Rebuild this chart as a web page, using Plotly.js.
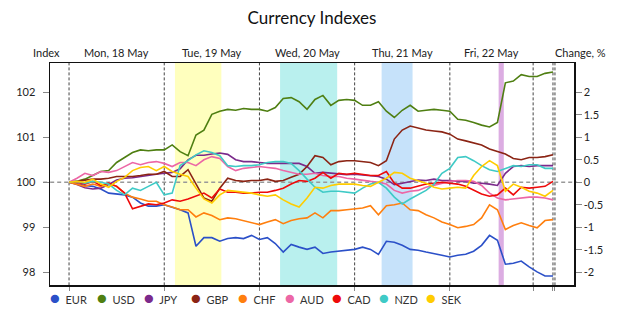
<!DOCTYPE html>
<html>
<head>
<meta charset="utf-8">
<script src="https://cdn.plot.ly/plotly-3.0.1.min.js"></script>
<style>
  html, body { margin: 0; padding: 0; background: #fff; }
  #chart { width: 625px; height: 315px; }
</style>
</head>
<body>
<div id="chart"></div>
<script>
// Time axis: hours since Monday 18 May 00:00, sampled every two hours
const hours = [0, 2, 4, 6, 8, 10, 12, 14, 16, 18, 20, 22, 24, 26, 28, 30, 32, 34, 36, 38,
  40, 42, 44, 46, 48, 50, 52, 54, 56, 58, 60, 62, 64, 66, 68, 70, 72, 74, 76, 78,
  80, 82, 84, 86, 88, 90, 92, 94, 96, 98, 100, 102, 104, 106, 108, 110, 112, 114, 116, 118,
  120, 122];

// Currency index values (start = 100)
const eur = [100.00, 99.96, 99.93, 99.91, 99.85, 99.76, 99.74, 99.72, 99.67, 99.54,
  99.47, 99.47, 99.50, 99.45, 99.39, 99.32, 98.58, 98.77, 98.77, 98.69,
  98.75, 98.77, 98.75, 98.82, 98.73, 98.77, 98.64, 98.45, 98.62, 98.56,
  98.51, 98.56, 98.42, 98.45, 98.47, 98.49, 98.51, 98.56, 98.51, 98.40,
  98.69, 98.67, 98.60, 98.51, 98.49, 98.45, 98.42, 98.38, 98.34, 98.38,
  98.40, 98.47, 98.60, 98.82, 98.71, 98.18, 98.20, 98.25, 98.12, 98.01,
  97.92, 97.92];
const usd = [100.00, 100.02, 100.07, 100.15, 100.24, 100.26, 100.44, 100.55, 100.66, 100.72,
  100.70, 100.72, 100.72, 100.83, 100.68, 100.59, 101.05, 101.16, 101.51, 101.58,
  101.62, 101.60, 101.64, 101.62, 101.62, 101.58, 101.66, 101.86, 101.88, 101.79,
  101.62, 101.84, 101.93, 101.71, 101.82, 101.84, 101.82, 101.71, 101.71, 101.79,
  101.58, 101.44, 101.60, 101.71, 101.58, 101.60, 101.62, 101.60, 101.58, 101.40,
  101.38, 101.33, 101.27, 101.23, 101.33, 102.21, 102.25, 102.39, 102.35, 102.35,
  102.42, 102.45];
const jpy = [100.00, 99.95, 99.88, 99.85, 99.87, 99.95, 100.05, 100.09, 100.10, 100.13,
  100.15, 100.18, 100.20, 100.22, 100.30, 100.50, 100.60, 100.60, 100.63, 100.65,
  100.62, 100.50, 100.46, 100.46, 100.44, 100.42, 100.42, 100.42, 100.42, 100.42,
  100.35, 100.20, 100.22, 100.20, 100.18, 100.17, 100.18, 100.16, 100.15, 100.13,
  100.07, 99.95, 99.98, 100.02, 100.05, 100.04, 100.07, 100.04, 100.04, 100.02,
  100.02, 99.98, 99.98, 99.96, 99.93, 100.20, 100.35, 100.37, 100.35, 100.37,
  100.37, 100.37];
const gbp = [100.00, 100.02, 100.04, 100.07, 100.07, 100.09, 100.13, 100.13, 100.13, 100.15,
  100.18, 100.18, 100.24, 100.13, 100.13, 100.28, 99.98, 99.65, 99.58, 99.87,
  100.09, 100.04, 100.02, 100.04, 100.04, 100.07, 100.02, 100.04, 100.11, 100.18,
  100.35, 100.59, 100.55, 100.39, 100.46, 100.48, 100.48, 100.46, 100.44, 100.37,
  100.48, 100.96, 101.16, 101.25, 101.20, 101.16, 101.14, 101.12, 101.07, 100.96,
  100.92, 100.88, 100.83, 100.74, 100.68, 100.63, 100.53, 100.50, 100.55, 100.55,
  100.57, 100.61];
const chf = [100.00, 99.96, 99.91, 99.96, 99.91, 99.96, 99.91, 99.76, 99.67, 99.63,
  99.58, 99.58, 99.50, 99.45, 99.39, 99.39, 99.23, 99.32, 99.26, 99.17,
  99.21, 99.19, 99.15, 99.10, 99.06, 99.12, 99.17, 99.08, 99.15, 99.19,
  99.21, 99.32, 99.21, 99.37, 99.37, 99.39, 99.41, 99.43, 99.48, 99.28,
  99.48, 99.50, 99.54, 99.39, 99.37, 99.28, 99.21, 99.12, 99.06, 98.99,
  99.02, 99.06, 99.21, 99.50, 99.39, 98.95, 99.04, 99.10, 99.04, 98.99,
  99.15, 99.17];
const aud = [100.00, 100.09, 100.20, 100.15, 100.24, 100.22, 100.26, 100.35, 100.44, 100.39,
  100.44, 100.46, 100.42, 100.35, 100.44, 100.44, 100.37, 100.50, 100.57, 100.53,
  100.35, 100.26, 100.31, 100.33, 100.35, 100.33, 100.31, 100.26, 100.22, 100.18,
  100.18, 100.20, 100.15, 100.13, 100.13, 100.09, 100.07, 100.04, 100.02, 100.00,
  99.96, 99.82, 99.76, 99.80, 99.82, 99.89, 99.93, 99.98, 100.02, 100.04,
  100.04, 100.02, 99.93, 99.76, 99.65, 99.61, 99.63, 99.65, 99.67, 99.67,
  99.65, 99.61];
const cad = [100.00, 100.00, 99.96, 100.02, 99.93, 99.98, 99.91, 99.76, 99.41, 99.47,
  99.52, 99.50, 99.54, 99.61, 99.58, 99.63, 99.69, 99.76, 99.65, 99.85,
  99.78, 99.78, 99.76, 99.76, 99.78, 99.78, 99.82, 99.87, 99.96, 100.04,
  100.02, 100.09, 100.22, 100.09, 100.20, 100.18, 100.20, 100.18, 100.15, 100.15,
  100.24, 99.98, 99.87, 99.87, 99.91, 99.96, 99.98, 100.00, 99.98, 99.96,
  99.91, 99.82, 99.74, 99.69, 99.72, 99.87, 99.72, 99.89, 99.87, 99.89,
  99.91, 100.02];
const nzd = [100.00, 100.02, 99.98, 100.02, 100.00, 99.96, 99.82, 99.72, 99.87, 99.82,
  99.91, 100.00, 99.72, 99.76, 100.37, 100.48, 100.61, 100.70, 100.66, 100.59,
  100.37, 100.35, 100.37, 100.37, 100.39, 100.44, 100.46, 100.46, 100.42, 100.26,
  100.07, 99.89, 99.78, 99.80, 99.80, 99.78, 99.76, 99.87, 99.96, 100.00,
  99.87, 99.67, 99.52, 99.63, 99.72, 99.82, 99.96, 100.20, 100.31, 100.55,
  100.57, 100.48, 100.37, 100.28, 100.24, 100.31, 100.37, 100.35, 100.39, 100.39,
  100.31, 100.31];
const sek = [100.00, 100.02, 100.00, 100.07, 99.96, 99.89, 100.02, 100.11, 100.26, 100.33,
  100.35, 100.26, 100.35, 100.24, 100.18, 100.13, 99.87, 99.63, 99.54, 99.72,
  99.82, 99.80, 99.78, 99.76, 99.72, 99.69, 99.72, 99.61, 99.52, 99.45,
  99.65, 99.89, 99.87, 99.93, 99.96, 99.96, 99.96, 99.93, 99.91, 100.00,
  100.09, 100.22, 100.20, 100.09, 100.04, 99.98, 99.89, 99.85, 99.87, 99.89,
  99.87, 100.15, 100.35, 100.48, 100.37, 99.80, 99.96, 99.89, 99.80, 99.76,
  99.69, 99.82];

const currencies = ['EUR', 'USD', 'JPY', 'GBP', 'CHF', 'AUD', 'CAD', 'NZD', 'SEK'];
const series = [eur, usd, jpy, gbp, chf, aud, cad, nzd, sek];
const colors = ['#2b50c8', '#4f7f12', '#7b2a8b', '#8b2414', '#ff7f0e',
  '#ec67a6', '#ee0a0a', '#3fcac6', '#ffcc00'];

// Day boundaries (hours) and the labels shown above each day
const dayStarts = [0, 24, 48, 72, 96];
const dayLabels = ['Mon, 18 May', 'Tue, 19 May', 'Wed, 20 May', 'Thu, 21 May', 'Fri, 22 May'];
const dayCenters = [12, 36, 60, 84, 106.5];
const extraMarks = [117, 122, 122.5];

// Highlighted trading sessions (hours)
const sessionStart = [26.7, 53.2, 78.8, 108.3];
const sessionEnd = [38.4, 67.6, 86.6, 109.6];
const sessionFill = ['#ffffbe', '#b9f0ee', '#c6e2fa', '#dcade2'];

const leftTicks = [98, 99, 100, 101, 102];
const rightTicks = [-2, -1.5, -1, -0.5, 0, 0.5, 1, 1.5, 2];
const rightTickText = ['-2', '-1.5', '-1', '-0.5', '0', '0.5', '1', '1.5', '2'];

const yRange = [97.71, 102.65];
const xRange = [-4.8, 127.3];

const traces = [];
series.forEach((vals, i) => {
  traces.push({
    x: hours, y: vals, type: 'scatter', mode: 'lines',
    name: currencies[i], showlegend: false,
    line: { color: colors[i], width: 1.6 },
    hoverinfo: 'skip'
  });
});
// legend entries: a coloured dot followed by the currency code
const hidden = 'rgba(0,0,0,0)';
currencies.forEach((c, i) => {
  traces.push({
    x: [null], y: [null], yaxis: 'y2', type: 'scatter', mode: 'markers',
    name: '<span style="color:' + colors[i] + ';font-size:17px">●</span>&nbsp; ' + c,
    marker: { color: hidden, size: 1 }, showlegend: true
  });
});
// spacer so the last legend label keeps its full width
traces.push({ x: [null], y: [null], yaxis: 'y2', type: 'scatter', mode: 'markers',
  name: ' ', marker: { color: hidden, size: 1 }, showlegend: true });

const shapes = [];
sessionStart.forEach((s, i) => {
  shapes.push({ type: 'rect', xref: 'x', yref: 'paper', x0: s, x1: sessionEnd[i], y0: 0, y1: 1,
    fillcolor: sessionFill[i], line: { width: 0 }, layer: 'below' });
});
dayStarts.concat(extraMarks).forEach(h => {
  shapes.push({ type: 'line', xref: 'x', yref: 'paper', x0: h, x1: h, y0: 0, y1: 1,
    line: { color: '#444', width: 1, dash: '3px,2px' }, layer: 'below' });
});
shapes.push({ type: 'line', xref: 'paper', yref: 'y', x0: -0.013, x1: 1.006, y0: 100, y1: 100,
  line: { color: '#999', width: 1.5, dash: '4px,3px' }, layer: 'below' });

const annotations = [
  { text: 'Index', xref: 'paper', yref: 'paper', x: -0.006, y: 1.049, showarrow: false,
    xanchor: 'center', yanchor: 'middle', font: { size: 11, color: '#222' } },
  { text: 'Change, %', xref: 'paper', yref: 'paper', x: 1.013, y: 1.049, showarrow: false,
    xanchor: 'center', yanchor: 'middle', font: { size: 11, color: '#222' } }
];
dayLabels.forEach((d, i) => {
  annotations.push({ text: d, xref: 'x', yref: 'paper', x: dayCenters[i], y: 1.049,
    showarrow: false, xanchor: 'center', yanchor: 'middle', font: { size: 11, color: '#222' } });
});

const layout = {
  width: 625, height: 315,
  margin: { l: 50, r: 51, t: 63, b: 26 },
  paper_bgcolor: '#ffffff', plot_bgcolor: 'rgba(0,0,0,0)',
  font: { family: 'Lato, sans-serif', size: 11, color: '#222' },
  title: { text: 'Currency Indexes', x: 0.5, xanchor: 'center', xref: 'paper',
    y: 0.943, yanchor: 'middle', yref: 'container', font: { size: 17, color: '#111' } },
  showlegend: true,
  legend: { orientation: 'h', x: 0.0154, xanchor: 'left', xref: 'container',
    y: 0.048, yanchor: 'middle', yref: 'container', entrywidth: 2, entrywidthmode: 'pixels',
    font: { size: 11, color: '#333' }, itemclick: false, bgcolor: 'rgba(0,0,0,0)' },
  xaxis: { range: xRange, showgrid: false, zeroline: false, showline: true, automargin: false,
    linecolor: '#111', linewidth: 1.5, mirror: true, ticks: 'outside', ticklen: 4,
    tickcolor: '#888', tickvals: dayStarts.concat(extraMarks), showticklabels: false },
  yaxis: { range: yRange, showgrid: false, zeroline: false, showline: true, linecolor: '#111',
    linewidth: 1.5, ticks: 'outside', ticklen: 6, tickcolor: '#888', tickvals: leftTicks,
    ticklabelstandoff: 5, showticklabels: true, automargin: false,
    tickfont: { size: 11, color: '#222' } },
  yaxis2: { overlaying: 'y', side: 'right', anchor: 'x', range: [yRange[0] - 100, yRange[1] - 100],
    showgrid: false, zeroline: false, showline: true, linecolor: '#111', linewidth: 1.5,
    ticks: 'outside', ticklen: 6, tickcolor: '#888', tickvals: rightTicks, ticktext: rightTickText,
    showticklabels: true, automargin: false, tickfont: { size: 11, color: '#222' } },
  shapes: shapes,
  annotations: annotations
};

Plotly.newPlot('chart', traces, layout, { displayModeBar: false, staticPlot: true });
</script>
</body>
</html>
